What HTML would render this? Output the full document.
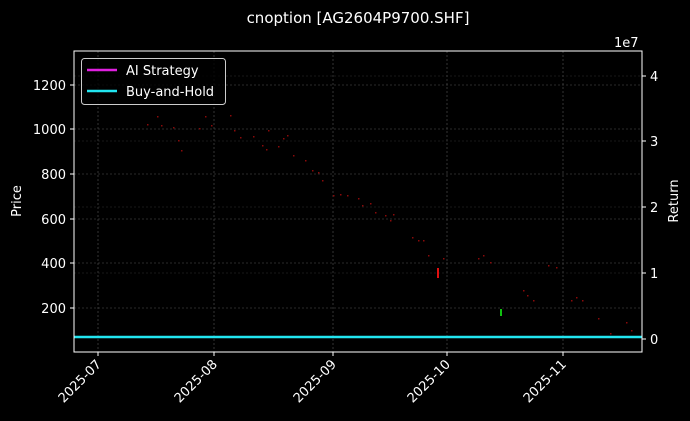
<!DOCTYPE html>
<html><head><meta charset="utf-8"><style>
html,body{margin:0;padding:0;background:#000;}
svg{display:block;font-family:"DejaVu Sans","Liberation Sans",sans-serif;}
</style></head><body>
<svg width="690" height="421" viewBox="0 0 690 421" xmlns="http://www.w3.org/2000/svg">
<rect width="690" height="421" fill="#000"/>
<g stroke="#555" stroke-width="0.6" stroke-dasharray="2,2">
<line x1="98" y1="51" x2="98" y2="352"/><line x1="214" y1="51" x2="214" y2="352"/>
<line x1="333" y1="51" x2="333" y2="352"/><line x1="447" y1="51" x2="447" y2="352"/>
<line x1="563" y1="51" x2="563" y2="352"/>
<line x1="74" y1="85" x2="642" y2="85"/><line x1="74" y1="129" x2="642" y2="129"/>
<line x1="74" y1="174" x2="642" y2="174"/><line x1="74" y1="219" x2="642" y2="219"/>
<line x1="74" y1="263" x2="642" y2="263"/><line x1="74" y1="308" x2="642" y2="308"/>
</g>
<g stroke="#333" stroke-width="0.6" stroke-dasharray="2,2">
<line x1="74" y1="76" x2="642" y2="76"/><line x1="74" y1="141" x2="642" y2="141"/>
<line x1="74" y1="207" x2="642" y2="207"/><line x1="74" y1="273" x2="642" y2="273"/>
</g>
<g fill="#8a0a0a">
<rect x="147" y="124" width="1.5" height="1.5"/><rect x="157" y="116" width="1.5" height="1.5"/><rect x="161" y="125" width="1.5" height="1.5"/><rect x="173" y="127" width="1.5" height="1.5"/><rect x="178" y="140" width="1.5" height="1.5"/><rect x="181" y="150" width="1.5" height="1.5"/><rect x="199" y="128" width="1.5" height="1.5"/><rect x="205" y="116" width="1.5" height="1.5"/><rect x="211" y="125" width="1.5" height="1.5"/><rect x="230" y="115" width="1.5" height="1.5"/><rect x="234" y="130" width="1.5" height="1.5"/><rect x="240" y="137" width="1.5" height="1.5"/><rect x="253" y="136" width="1.5" height="1.5"/><rect x="262" y="145" width="1.5" height="1.5"/><rect x="266" y="149" width="1.5" height="1.5"/><rect x="268" y="130" width="1.5" height="1.5"/><rect x="278" y="146" width="1.5" height="1.5"/><rect x="283" y="138" width="1.5" height="1.5"/><rect x="287" y="135" width="1.5" height="1.5"/><rect x="293" y="155" width="1.5" height="1.5"/><rect x="305" y="160" width="1.5" height="1.5"/><rect x="312" y="170" width="1.5" height="1.5"/><rect x="318" y="172" width="1.5" height="1.5"/><rect x="322" y="180" width="1.5" height="1.5"/><rect x="333" y="195" width="1.5" height="1.5"/><rect x="340" y="194" width="1.5" height="1.5"/><rect x="347" y="195" width="1.5" height="1.5"/><rect x="358" y="198" width="1.5" height="1.5"/><rect x="362" y="205" width="1.5" height="1.5"/><rect x="370" y="203" width="1.5" height="1.5"/><rect x="375" y="212" width="1.5" height="1.5"/><rect x="385" y="215" width="1.5" height="1.5"/><rect x="390" y="220" width="1.5" height="1.5"/><rect x="393" y="214" width="1.5" height="1.5"/><rect x="412" y="237" width="1.5" height="1.5"/><rect x="418" y="240" width="1.5" height="1.5"/><rect x="423" y="240" width="1.5" height="1.5"/><rect x="428" y="255" width="1.5" height="1.5"/><rect x="443" y="258" width="1.5" height="1.5"/><rect x="478" y="258" width="1.5" height="1.5"/><rect x="483" y="255" width="1.5" height="1.5"/><rect x="490" y="262" width="1.5" height="1.5"/><rect x="523" y="290" width="1.5" height="1.5"/><rect x="527" y="295" width="1.5" height="1.5"/><rect x="533" y="300" width="1.5" height="1.5"/><rect x="548" y="265" width="1.5" height="1.5"/><rect x="556" y="267" width="1.5" height="1.5"/><rect x="571" y="300" width="1.5" height="1.5"/><rect x="576" y="297" width="1.5" height="1.5"/><rect x="582" y="300" width="1.5" height="1.5"/><rect x="598" y="318" width="1.5" height="1.5"/><rect x="610" y="333" width="1.5" height="1.5"/><rect x="626" y="322" width="1.5" height="1.5"/><rect x="631" y="330" width="1.5" height="1.5"/>
</g>
<rect x="437" y="268" width="2" height="10" fill="#e01010"/>
<rect x="500" y="309" width="2" height="7" fill="#10c010"/>
<line x1="74" y1="337" x2="642" y2="337" stroke="#22e5f0" stroke-width="2.5"/>
<rect x="74" y="51" width="568" height="301" fill="none" stroke="#fff" stroke-width="1"/>
<g stroke="#fff" stroke-width="1">
<line x1="70" y1="85" x2="74" y2="85"/><line x1="70" y1="129" x2="74" y2="129"/><line x1="70" y1="174" x2="74" y2="174"/><line x1="70" y1="219" x2="74" y2="219"/><line x1="70" y1="263" x2="74" y2="263"/><line x1="70" y1="308" x2="74" y2="308"/>
<line x1="642" y1="76" x2="646" y2="76"/><line x1="642" y1="141" x2="646" y2="141"/><line x1="642" y1="207" x2="646" y2="207"/><line x1="642" y1="273" x2="646" y2="273"/><line x1="642" y1="339" x2="646" y2="339"/>
<line x1="98" y1="352" x2="98" y2="356"/><line x1="214" y1="352" x2="214" y2="356"/><line x1="333" y1="352" x2="333" y2="356"/><line x1="447" y1="352" x2="447" y2="356"/><line x1="563" y1="352" x2="563" y2="356"/>
</g>
<g fill="#fff" font-size="13">
<g text-anchor="end">
<text x="66" y="90">1200</text><text x="66" y="134">1000</text><text x="66" y="179">800</text><text x="66" y="224">600</text><text x="66" y="268">400</text><text x="66" y="313">200</text>
</g>
<text x="650" y="81">4</text><text x="650" y="146">3</text><text x="650" y="212">2</text><text x="650" y="278">1</text><text x="650" y="344">0</text>
<text x="614" y="47">1e7</text>
<g text-anchor="end">
<text transform="translate(102,365) rotate(-45)">2025-07</text>
<text transform="translate(218,365) rotate(-45)">2025-08</text>
<text transform="translate(337,365) rotate(-45)">2025-09</text>
<text transform="translate(451,365) rotate(-45)">2025-10</text>
<text transform="translate(567,365) rotate(-45)">2025-11</text>
</g>
<text transform="translate(21,201) rotate(-90)" text-anchor="middle">Price</text>
<text transform="translate(678,201) rotate(-90)" text-anchor="middle">Return</text>
<text x="358" y="23" text-anchor="middle" font-size="15">cnoption [AG2604P9700.SHF]</text>
</g>
<rect x="81.5" y="58.5" width="144" height="46" rx="3" fill="#000" fill-opacity="0.8" stroke="#ccc" stroke-width="1"/>
<line x1="87" y1="70" x2="117" y2="70" stroke="#e020e0" stroke-width="2.5"/>
<line x1="87" y1="91" x2="117" y2="91" stroke="#22e5f0" stroke-width="2.5"/>
<text x="126" y="75" fill="#fff" font-size="13">AI Strategy</text>
<text x="126" y="96" fill="#fff" font-size="13">Buy-and-Hold</text>
</svg>
</body></html>
